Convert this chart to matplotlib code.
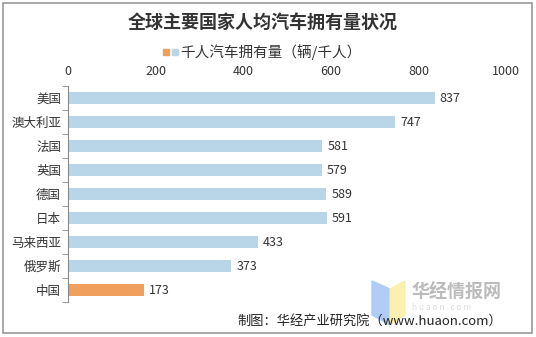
import matplotlib
matplotlib.use("Agg")
import matplotlib.pyplot as plt
from matplotlib.patches import Rectangle, Polygon

plt.rcParams['font.family'] = ['Noto Sans CJK SC', 'DejaVu Sans']

categories = ["美国", "澳大利亚", "法国", "英国", "德国", "日本", "马来西亚", "俄罗斯", "中国"]
values = [837, 747, 581, 579, 589, 591, 433, 373, 173]
highlight = "中国"
xticks = [0, 200, 400, 600, 800, 1000]

blue = "#B9D5E8"
orange = "#F0A05C"

W, H = 536, 337
fig = plt.figure(figsize=(W / 100, H / 100), dpi=100)
ax = fig.add_axes([68 / W, 1 - 302 / H, (506 - 68) / W, 216 / H])

colors = [orange if c == highlight else blue for c in categories]
ypos = list(range(len(categories)))
ax.barh(ypos, values, height=0.52, color=colors)
ax.set_ylim(len(categories) - 0.5, -0.5)
ax.set_xlim(0, 1000)
ax.set_yticks(ypos)
ax.set_yticklabels(categories, fontsize=9, color="#333333")
ax.set_xticks(xticks)
ax.set_xticklabels([str(t) for t in xticks], fontsize=9, color="#333333")
ax.xaxis.tick_top()
ax.tick_params(axis='x', length=0, pad=6)
ax.tick_params(axis='y', length=0, pad=5)
ax.set_yticks([i - 0.5 for i in range(len(categories) + 1)], minor=True)
ax.tick_params(axis='y', which='minor', length=4, color="#888888", direction='out')
for s in ['top', 'right', 'bottom']:
    ax.spines[s].set_visible(False)
ax.spines['left'].set_color("#888888")

for y, v in zip(ypos, values):
    ax.text(v + 12, y, str(v), va='center', ha='left', fontsize=9, color="#333333")

# title
fig.text(0.49, 1 - 22 / H, "全球主要国家人均汽车拥有量状况", ha='center', va='center',
         fontsize=13, fontweight='bold', color="#333333")
# legend
fig.patches.append(Rectangle((163 / W, 1 - 55 / H), 6 / W, 6 / H, transform=fig.transFigure,
                             color=orange))
fig.patches.append(Rectangle((172 / W, 1 - 55 / H), 6 / W, 6 / H, transform=fig.transFigure,
                             color=blue))
fig.text(180 / W, 1 - 52 / H, "千人汽车拥有量（辆/千人）", ha='left', va='center',
         fontsize=10.5, color="#333333")

# watermark logo
fig.patches.append(Polygon([(372 / W, 1 - 281 / H), (390 / W, 1 - 289 / H),
                            (390 / W, 1 - 325 / H), (372 / W, 1 - 315 / H)],
                           closed=True, transform=fig.transFigure, color="#A9C8F5", alpha=0.9))
fig.patches.append(Polygon([(390 / W, 1 - 289 / H), (405 / W, 1 - 281 / H),
                            (405 / W, 1 - 315 / H), (390 / W, 1 - 325 / H)],
                           closed=True, transform=fig.transFigure, color="#FBEFA8", alpha=0.9))
fig.text(411 / W, 1 - 292 / H, "华经情报网", ha='left', va='center', fontsize=13,
         fontweight='bold', color="#BBBBBB")
fig.text(412 / W, 1 - 307 / H, "h u a o n . c o m", ha='left', va='center', fontsize=6,
         color="#DDDDDD")

# source
fig.text(502 / W, 1 - 321 / H, "制图：华经产业研究院（www.huaon.com）", ha='right', va='center',
         fontsize=9.5, color="#222222")

# outer border
fig.patches.append(Rectangle((3 / W, 4 / H), 529 / W, 330 / H, transform=fig.transFigure,
                             fill=False, edgecolor="#999999", linewidth=1.2))

fig.savefig("out.png", dpi=100)
